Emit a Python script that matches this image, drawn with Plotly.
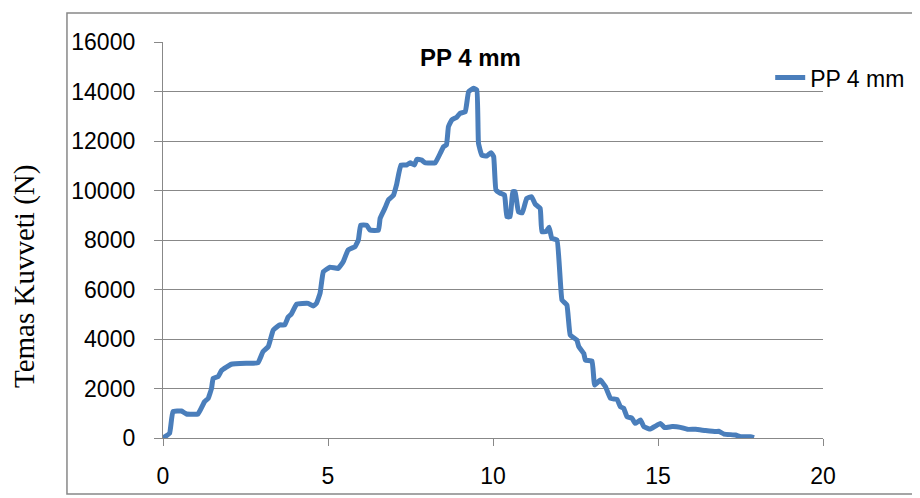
import plotly.graph_objects as go

# Data
x_vals = [0.00, 0.20, 0.30, 0.56, 0.71, 1.06, 1.26, 1.37, 1.47, 1.52, 1.67, 1.77, 1.92, 2.07, 2.58, 2.88,
          3.03, 3.19, 3.34, 3.54, 3.69, 3.79, 3.89, 4.05, 4.40, 4.55, 4.65, 4.76, 4.86, 5.06, 5.31,
          5.46, 5.61, 5.82, 5.92, 5.99, 6.17, 6.27, 6.53, 6.58, 6.73, 6.83, 6.98, 7.08, 7.21, 7.38,
          7.49, 7.62, 7.69, 7.84, 7.94, 8.25, 8.40, 8.50, 8.59, 8.65, 8.75, 8.90, 9.00, 9.16, 9.26,
          9.41, 9.51, 9.56, 9.66, 9.81, 9.94, 10.02, 10.09, 10.22, 10.35, 10.42, 10.52, 10.60, 10.67,
          10.77, 10.89, 11.02, 11.17, 11.28, 11.43, 11.48, 11.61, 11.70, 11.78, 11.94, 12.09, 12.24,
          12.34, 12.54, 12.60, 12.75, 12.80, 13.00, 13.08, 13.25, 13.41, 13.56, 13.76, 13.86, 13.96,
          14.06, 14.21, 14.31, 14.47, 14.57, 14.77, 14.92, 15.07, 15.20, 15.43, 15.68, 15.89, 16.14,
          16.44, 16.75, 16.84, 17.00, 17.35, 17.50, 17.80, 17.91]
force_vals = [0, 190, 1060, 1090, 970, 970, 1470, 1600, 2000, 2410, 2480, 2720, 2860, 2980, 3020, 3040,
              3490, 3690, 4360, 4570, 4570, 4880, 5010, 5410, 5440, 5330, 5440, 5850, 6720, 6900, 6850,
              7120, 7600, 7730, 8000, 8600, 8600, 8400, 8400, 8880, 9300, 9620, 9800, 10250, 11030, 11030,
              11120, 11030, 11260, 11230, 11120, 11120, 11500, 11770, 11840, 12580, 12850, 12960, 13120, 13180, 13990,
              14130, 14060, 11910, 11430, 11390, 11530, 11370, 10020, 9890, 9820, 8940, 8940, 9950, 9950,
              9140, 9100, 9680, 9750, 9450, 9280, 8340, 8340, 8520, 8070, 8000, 5580, 5370,
              4160, 3960, 3690, 3420, 3150, 3110, 2140, 2340, 2070, 1600, 1560, 1260, 1200,
              860, 800, 590, 730, 460, 360, 480, 590, 420, 460, 430, 350, 350,
              300, 260, 270, 160, 120, 50, 50, 10]

series_name = "PP 4 mm"
chart_title = "PP 4 mm"
y_title = "Temas Kuvveti (N)"
x_ticks = [0, 5, 10, 15, 20]
y_ticks = [0, 2000, 4000, 6000, 8000, 10000, 12000, 14000, 16000]

GRID = "#888888"
LINE = "#4A7EBB"
TICKFONT = dict(family="Liberation Sans, Arial, sans-serif", size=23, color="#000000")

fig = go.Figure()
fig.add_trace(go.Scatter(
    x=x_vals, y=force_vals, mode="lines", name=series_name,
    line=dict(color=LINE, width=5, shape="spline", smoothing=0.3),
))

fig.update_layout(
    width=920, height=498,
    margin=dict(l=155, r=105, t=34, b=68),
    paper_bgcolor="white", plot_bgcolor="white",
    showlegend=True,
    legend=dict(x=0.92, y=0.91, xanchor="left", yanchor="middle",
                font=dict(family="Liberation Sans, Arial, sans-serif", size=23, color="#000"),
                bgcolor="rgba(0,0,0,0)", itemwidth=30),
    xaxis=dict(range=[0, 20], tickvals=x_ticks, showgrid=False, zeroline=False,
               showline=True, linecolor=GRID, linewidth=1.3,
               ticks="outside", ticklen=7, tickcolor=GRID, tickwidth=1.3,
               tickfont=TICKFONT, ticklabelstandoff=10),
    yaxis=dict(range=[0, 16000], tickvals=y_ticks, tickformat="d", showgrid=True, gridcolor=GRID, gridwidth=1.3,
               zeroline=False, showline=True, linecolor=GRID, linewidth=1.3,
               ticks="outside", ticklen=8, tickcolor=GRID, tickwidth=1.3,
               tickfont=TICKFONT, ticklabelstandoff=14),
    shapes=[dict(type="rect", xref="paper", yref="paper",
                 x0=-0.1455, x1=1.16, y0=-0.1414, y1=1.0732,
                 line=dict(color=GRID, width=1.5), fillcolor="rgba(0,0,0,0)", layer="below")],
    annotations=[
        dict(text="<b>" + chart_title + "</b>", xref="paper", yref="paper", x=0.466, y=0.96,
             xanchor="center", yanchor="middle", showarrow=False,
             font=dict(family="Liberation Sans, Arial, sans-serif", size=24, color="#000")),
        dict(text=y_title, xref="paper", yref="paper", x=-0.209, y=0.4066,
             xanchor="center", yanchor="middle", textangle=-90, showarrow=False,
             font=dict(family="Liberation Serif, Times New Roman, serif", size=29, color="#000")),
    ],
)

fig.write_html("out.html")
